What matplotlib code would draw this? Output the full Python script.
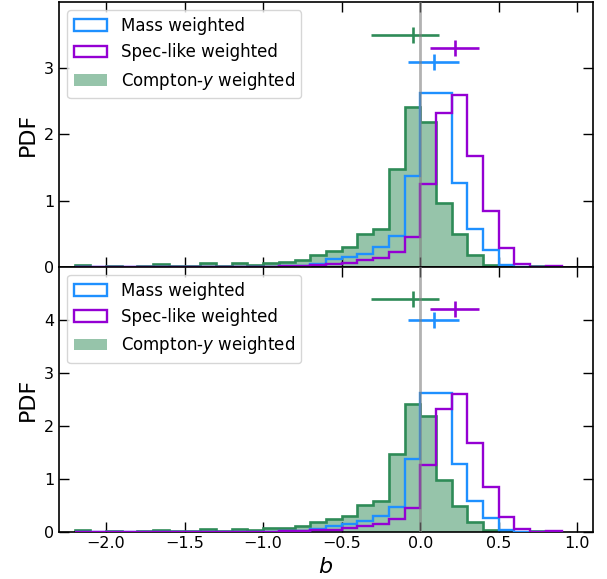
import numpy as np
import matplotlib
matplotlib.use('Agg')
import matplotlib.pyplot as plt

# bin edges of the b histograms (width 0.1)
edges = np.round(np.arange(-2.2, 0.95, 0.1), 2)

# PDF values per bin
pdf_mass = [0, 0, 0, 0, 0, 0, 0, 0, 0, 0, 0, 0, 0,
            0.015, 0.015, 0.04, 0.11, 0.145, 0.20, 0.30, 0.46, 1.37,
            2.62, 2.62, 1.27, 0.57, 0.26, 0.03, 0, 0, 0]
pdf_spec = [0, 0, 0, 0, 0, 0, 0, 0, 0, 0, 0, 0, 0,
            0.01, 0.01, 0.025, 0.035, 0.06, 0.10, 0.14, 0.23, 0.45,
            1.25, 2.32, 2.59, 1.68, 0.84, 0.28, 0.04, 0, 0.01]
pdf_y = [0.02, 0, 0.015, 0, 0.015, 0.035, 0.015, 0.015, 0.05, 0.015, 0.05, 0.03,
         0.06, 0.07, 0.10, 0.18, 0.24, 0.30, 0.50, 0.57, 1.47, 2.41,
         2.18, 0.97, 0.49, 0.18, 0.03, 0, 0, 0.01, 0]

# median and spread of each weighting
centers = [0.09, 0.22, -0.045]
err_lo = [0.165, 0.16, 0.27]
err_hi = [0.155, 0.155, 0.165]
ypos_top = [3.1, 3.3, 3.5]
ypos_bot = [4.0, 4.2, 4.4]

labels = ['Mass weighted', 'Spec-like weighted', 'Compton-$y$ weighted']
colors = ['dodgerblue', 'darkviolet', 'seagreen']

fig, axes = plt.subplots(2, 1, figsize=(6.07, 5.79), dpi=100, sharex=True)
fig.subplots_adjust(left=0.097, right=0.977, top=0.9965, bottom=0.082, hspace=0)

for ax, ypos, ymax in zip(axes, [ypos_top, ypos_bot], [4, 5]):
    ax.hist(edges[:-1], bins=edges, weights=pdf_mass, histtype='step',
            color=colors[0], lw=1.7, label=labels[0], zorder=3)
    ax.hist(edges[:-1], bins=edges, weights=pdf_spec, histtype='step',
            color=colors[1], lw=1.7, label=labels[1], zorder=3)
    ax.hist(edges[:-1], bins=edges, weights=pdf_y, histtype='bar',
            color=colors[2], alpha=0.5, lw=0, label=labels[2], zorder=1)
    ax.hist(edges[:-1], bins=edges, weights=pdf_y, histtype='step',
            color=colors[2], lw=1.9, zorder=2)

    # medians with their spread
    for c, lo, hi, y, col in zip(centers, err_lo, err_hi, ypos, colors):
        ax.errorbar(c, y, xerr=[[lo], [hi]], fmt='|', color=col,
                    ms=12, mew=1.9, elinewidth=1.9)

    ax.axvline(0, color='grey', alpha=0.6, lw=2, zorder=10)

    ax.set_ylim(0, ymax)
    ax.set_yticks(range(ymax))
    ax.set_ylabel('PDF', fontsize=16)
    ax.tick_params(direction='in', top=True, right=True, length=7,
                   width=1, labelsize=11.5)
    for s in ax.spines.values():
        s.set_linewidth(1.2)
    ax.legend(loc='upper left', fontsize=12)

axes[1].set_xlim(-2.3, 1.1)
axes[1].set_xlabel('$b$', fontsize=16)

plt.savefig('out.png')
